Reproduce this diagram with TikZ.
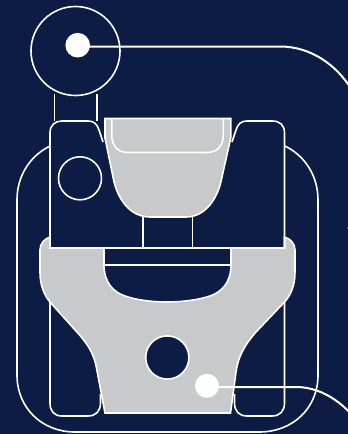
\documentclass[tikz,border=0pt]{standalone}
\definecolor{navybg}{HTML}{0D1C45}
\definecolor{partgray}{HTML}{C8C9CB}
\tikzset{
  part/.style={draw=white,line width=1.6pt},
  link/.style={draw=white,line width=2pt},
  dot/.style={circle,fill=white,inner sep=0pt,minimum size=#1},
}
\begin{document}
\begin{tikzpicture}[x=1pt,y=-1pt]
\path[use as bounding box,fill=navybg] (0,0) rectangle (348,434);
% outer shell
\draw[part] (50,146) .. controls (28,157) and (17,178) .. (17,200) -- (17,375)
  .. controls (17,408) and (42,432) .. (75,432) -- (259,432)
  .. controls (293,432) and (318,408) .. (318,375) -- (318,200)
  .. controls (318,178) and (307,157) .. (285,146);
% lower legs
\draw[part] (50,300) -- (50,403) .. controls (50,411) and (54,416) .. (62,416) -- (88,416)
  .. controls (96,416) and (100.5,411) .. (100.5,403) -- (100.5,394);
\draw[part] (284.5,300) -- (284.5,403) .. controls (284.5,411) and (280,416) .. (272,416) -- (247,416)
  .. controls (239,416) and (234.5,411) .. (234.5,403) -- (234.5,394);
% lower gray piece
\fill[partgray,part] (50,237) .. controls (44,239) and (40,244) .. (40,250) -- (40,272)
  .. controls (40,285) and (44,295) .. (50,302) -- (76,331)
  .. controls (88,344) and (94,354) .. (96.5,368) -- (105,413) -- (230.5,413) -- (236,372)
  .. controls (238,358) and (243,347) .. (256,332) -- (284.5,302)
  .. controls (291,295) and (295,285) .. (295,272) -- (295,250)
  .. controls (295,244) and (291,239) .. (284.5,237) -- (284.5,248) -- (231,248) -- (231,265)
  .. controls (231,282) and (222,292) .. (210,296)
  .. controls (198,300) and (182,302) .. (167,302)
  .. controls (152,302) and (136,300) .. (125,296)
  .. controls (113,292) and (104,282) .. (104,265) -- (104,248) -- (50,248) -- cycle;
\draw[part] (104,264.7) -- (231,264.7) (104,248) -- (231,248);
\filldraw[part,fill=navybg] (167.3,357.5) circle (21.6);
% stem and roller
\draw[part] (54.5,94) -- (54.5,121) (96.7,94) -- (96.7,121);
\draw[part] (75.5,51) circle (44.5);
% upper blocks
\draw[part] (50,248) -- (50,133) .. controls (50,125) and (55,121) .. (62,121) -- (88,121)
  .. controls (94,121) and (97,124) .. (99,130) -- (103,142);
\draw[part] (232,142) -- (236,130) .. controls (238,124) and (241,121) .. (247,121) -- (272,121)
  .. controls (280,121) and (284.5,125) .. (284.5,133) -- (284.5,248);
\draw[part] (80,178.3) circle (21.5);
% neck
\draw[part] (143,217) -- (143,248) (192.3,217) -- (192.3,248);
% cup
\fill[partgray,part] (105,118.5) -- (230.7,118.5) -- (230.7,138) -- (222,177)
  .. controls (218,199) and (205,217) .. (186,217) -- (150,217)
  .. controls (130,217) and (117,199) .. (113,177) -- (105,138) -- cycle;
\draw[part] (111.7,118.5) -- (111.7,135) .. controls (111.7,146) and (118,152.5) .. (128,152.5) -- (207,152.5)
  .. controls (217,152.5) and (223.3,146) .. (223.3,135) -- (223.3,118.5);
% connectors
\node[dot=24.6pt] (rollerdot) at (77.7,45.2) {};
\node[dot=24pt] (gripdot) at (207,385.8) {};
\node[dot=10pt] (edgedot) at (352.5,228) {};
\coordinate (topstart) at (85,46.5);
\coordinate (lowstart) at (212,387);
\coordinate (topend) at (352,90);
\coordinate (lowend) at (352,415);
\draw[link] (topstart) -- (280,46.5) .. controls (310,46.5) and (336,64) .. (topend);
\draw[link] (lowstart) -- (296,387) .. controls (316,387) and (336,397) .. (lowend);
\end{tikzpicture}
\end{document}
